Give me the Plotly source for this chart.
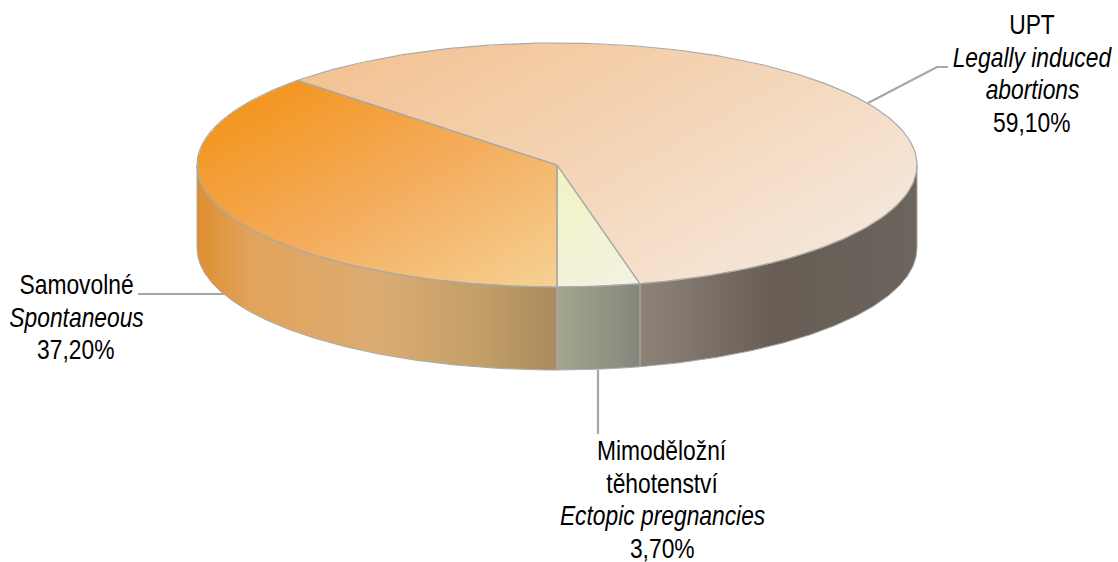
import numpy as np
import plotly.graph_objects as go

# --- data (order: clockwise from the bottom of the pie) ---
shares = [37.2, 59.1, 3.7]
label_lines = [
    [("Samovolné", False), ("Spontaneous", True), ("37,20%", False)],
    [("UPT", False), ("Legally induced", True), ("abortions", True), ("59,10%", False)],
    [("Mimoděložní", False), ("těhotenství", False), ("Ectopic pregnancies", True), ("3,70%", False)],
]
label_centres_x = [76, 1032, 662]
label_first_y = [285, 25, 451]
line_gap = 32.7
FONT = "Liberation Sans Narrow, Arial Narrow, Liberation Sans"
FONT_SIZE = 27
TEXT_SQUEEZE = 0.845

# --- colours ---
top_scales = [
    [[0, "#F39621"], [0.5, "#F4AE60"], [1, "#F5D193"]],
    [[0, "#F3C292"], [1, "#F5E6D8"]],
    [[0, "#F0F3C2"], [1, "#F3F2E2"]],
]
wall_scales = [
    [[0, "#DE8F30"], [0.15, "#E2A35C"], [0.5, "#DBAC72"], [0.8, "#C29E68"], [1, "#A98B5E"]],
    [[0, "#8F8379"], [0.5, "#675D55"], [1, "#6C655D"]],
    [[0, "#A4A68E"], [1, "#85877C"]],
]
EDGE = "#A9A9A9"
LEADER = "#A6A6A6"

# --- pie geometry ---
cx, cy, rx, ry, depth = 557, 165, 360, 122, 83
start = 180.0

def arc(a0, a1, n=200, dy=0):
    t = np.radians(np.linspace(a0, a1, n))
    return cx + rx * np.sin(t), cy - ry * np.cos(t) + dy

edges = start + np.cumsum([0] + shares) * 3.6

fig = go.Figure()

# top faces as masked heatmaps, so the gradient can run diagonally
xs = np.arange(cx - rx, cx + rx + 1, 1.0)
ys = np.arange(cy - ry, cy + ry + 1, 1.0)
X, Y = np.meshgrid(xs, ys)
U, V = (X - cx) / rx, (cy - Y) / ry
inside = U**2 + V**2 <= 1.0
ANG = np.degrees(np.arctan2(U, V)) % 360
for i in range(3):
    a0, a1 = edges[i], edges[i + 1]
    m = inside & (((ANG >= a0) & (ANG < a1)) | ((ANG + 360 >= a0) & (ANG + 360 < a1)))
    proj = 0.5 * X + 0.866 * Y
    lo, hi = proj[m].min(), proj[m].max()
    Z = np.where(m, (proj - lo) / (hi - lo), np.nan)
    fig.add_trace(go.Heatmap(x=xs, y=ys, z=Z, zmin=0, zmax=1, colorscale=top_scales[i],
                             showscale=False, hoverinfo="skip"))

# side walls (only the front half of the disc is visible)
for i in range(3):
    a0, a1 = edges[i], edges[i + 1]
    for lo, hi in ((90, 270), (450, 630)):
        b0, b1 = max(a0, lo), min(a1, hi)
        if b1 <= b0:
            continue
        xt, yt = arc(b0, b1)
        xb, yb = arc(b1, b0, dy=depth)
        fig.add_trace(go.Scatter(
            x=np.r_[xt, xb, xt[0]], y=np.r_[yt, yb, yt[0]], mode="lines", fill="toself",
            fillgradient=dict(type="horizontal", colorscale=wall_scales[i]),
            line=dict(color=EDGE, width=1), hoverinfo="skip", showlegend=False))

# outlines of the top faces
for i in range(3):
    xa, ya = arc(edges[i], edges[i + 1])
    fig.add_trace(go.Scatter(x=np.r_[cx, xa, cx], y=np.r_[cy, ya, cy], mode="lines",
                             line=dict(color=EDGE, width=1.2), hoverinfo="skip", showlegend=False))

# leader lines
leaders = [([138, 224], [294, 294]), ([868, 937, 948], [103, 67, 67]), ([598, 598], [370, 434])]
for lx, ly in leaders:
    fig.add_trace(go.Scatter(x=lx, y=ly, mode="lines", line=dict(color=LEADER, width=2.2),
                             hoverinfo="skip", showlegend=False))

# labels
for lines, x0, y0 in zip(label_lines, label_centres_x, label_first_y):
    for j, (txt, ital) in enumerate(lines):
        fig.add_annotation(x=x0, y=y0 + j * line_gap, text=f"<i>{txt}</i>" if ital else txt,
                           showarrow=False, xanchor="center", yanchor="middle",
                           font=dict(family=FONT, size=FONT_SIZE, color="#000000"))

fig.update_layout(
    width=1118, height=562, margin=dict(l=0, r=0, t=0, b=0),
    paper_bgcolor="white", plot_bgcolor="white", showlegend=False,
    xaxis=dict(range=[0, 1118], visible=False, fixedrange=True),
    yaxis=dict(range=[562, 0], visible=False, fixedrange=True),
)

# no narrow face is installed: squeeze the real text horizontally about its own centre
squeeze_js = """
document.body.style.margin='0';document.body.style.overflow='hidden';
document.querySelectorAll('.annotation-text').forEach(function(t){
  var b=t.getBBox(), c=b.x+b.width/2;
  t.setAttribute('transform','translate('+c+',0) scale(%s,1) translate('+(-c)+',0)');
});
""" % TEXT_SQUEEZE
fig.write_html("out.html", config={"displayModeBar": False}, post_script=squeeze_js)
